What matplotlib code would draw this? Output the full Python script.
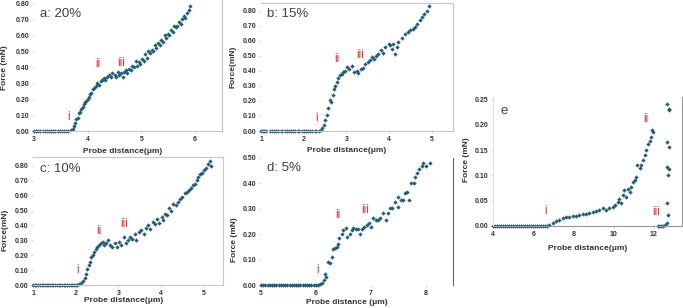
import matplotlib.pyplot as plt

# --- data (x: probe distance in um, y: force in mN) ---

# a: 20%
a_x = [3.00, 3.04, 3.08, 3.12, 3.16, 3.20, 3.24, 3.28, 3.32, 3.36, 3.40, 3.44, 3.48, 3.52,
       3.56, 3.60, 3.64, 3.68, 3.72, 3.74, 3.77, 3.79, 3.81, 3.84, 3.86, 3.88, 3.91, 3.93,
       3.95, 3.97, 4.00, 4.02, 4.05, 4.07, 4.10, 4.12, 4.15, 4.18, 4.21, 4.24, 4.27, 4.30,
       4.33, 4.36, 4.40, 4.43, 4.46, 4.50, 4.53, 4.56, 4.59, 4.62, 4.65, 4.68, 4.71, 4.74,
       4.77, 4.80, 4.83, 4.86, 4.89, 4.92, 4.95, 4.98, 5.01, 5.04, 5.07, 5.10, 5.13, 5.16,
       5.19, 5.22, 5.25, 5.28, 5.31, 5.34, 5.37, 5.40, 5.43, 5.46, 5.49, 5.52, 5.55, 5.58,
       5.61, 5.64, 5.67, 5.70, 5.73, 5.76, 5.79, 5.82, 5.85, 5.88, 5.90]
a_y = [0.00, 0.00, 0.00, 0.00, 0.00, 0.00, 0.00, 0.00, 0.00, 0.00, 0.00, 0.00, 0.00, 0.00,
       0.00, 0.00, 0.00, 0.005, 0.015, 0.03, 0.05, 0.075, 0.08, 0.11, 0.12, 0.14, 0.15, 0.17,
       0.18, 0.19, 0.20, 0.21, 0.23, 0.24, 0.26, 0.27, 0.28, 0.30, 0.29, 0.31, 0.32, 0.33,
       0.32, 0.34, 0.35, 0.34, 0.36, 0.35, 0.34, 0.37, 0.35, 0.36, 0.34, 0.37, 0.38, 0.36,
       0.39, 0.38, 0.41, 0.40, 0.44, 0.41, 0.43, 0.42, 0.45, 0.44, 0.48, 0.46, 0.50, 0.49,
       0.51, 0.50, 0.54, 0.52, 0.55, 0.54, 0.57, 0.56, 0.60, 0.58, 0.61, 0.60, 0.63, 0.62,
       0.66, 0.65, 0.66, 0.68, 0.67, 0.70, 0.72, 0.71, 0.74, 0.76, 0.78]

# b: 15%
b_x = [1.00, 1.04, 1.08, 1.12, 1.20, 1.26, 1.30, 1.36, 1.40, 1.46, 1.50, 1.56, 1.60, 1.66,
       1.70, 1.76, 1.80, 1.86, 1.90, 1.96, 2.00, 2.06, 2.10, 2.16, 2.20, 2.26, 2.30, 2.36,
       2.40, 2.43, 2.47, 2.50, 2.54, 2.58, 2.62, 2.65, 2.68, 2.70, 2.74, 2.78, 2.80, 2.86,
       2.90, 2.93, 2.97, 3.01, 3.07, 3.13, 3.19, 3.24, 3.28, 3.35, 3.40, 3.44, 3.50, 3.56,
       3.60, 3.64, 3.70, 3.75, 3.81, 3.86, 3.91, 3.99, 4.03, 4.06, 4.10, 4.14, 4.18, 4.22,
       4.30, 4.38, 4.44, 4.49, 4.56, 4.61, 4.65, 4.73, 4.78, 4.83, 4.89, 4.94]
b_y = [0.00, 0.00, 0.00, 0.00, 0.00, 0.00, 0.00, 0.00, 0.00, 0.00, 0.00, 0.00, 0.00, 0.00,
       0.00, 0.00, 0.00, 0.00, 0.00, 0.00, 0.00, 0.00, 0.00, 0.00, 0.00, 0.00, 0.00, 0.00,
       0.005, 0.018, 0.04, 0.07, 0.105, 0.15, 0.205, 0.19, 0.24, 0.28, 0.30, 0.325, 0.35, 0.37,
       0.38, 0.39, 0.40, 0.425, 0.41, 0.43, 0.39, 0.40, 0.385, 0.41, 0.42, 0.445, 0.455, 0.47,
       0.49, 0.48, 0.50, 0.51, 0.535, 0.52, 0.555, 0.58, 0.57, 0.545, 0.58, 0.51, 0.56, 0.59,
       0.62, 0.645, 0.655, 0.67, 0.68, 0.69, 0.71, 0.735, 0.755, 0.78, 0.80, 0.83]

# c: 10%
c_x = [1.00, 1.04, 1.08, 1.12, 1.16, 1.20, 1.24, 1.28, 1.32, 1.36, 1.40, 1.44, 1.48, 1.52,
       1.56, 1.60, 1.64, 1.68, 1.72, 1.76, 1.80, 1.84, 1.88, 1.92, 1.96, 2.00, 2.04, 2.08,
       2.13, 2.17, 2.21, 2.25, 2.27, 2.31, 2.34, 2.37, 2.41, 2.44, 2.48, 2.51, 2.55, 2.59,
       2.63, 2.66, 2.70, 2.76, 2.80, 2.86, 2.91, 2.97, 3.02, 3.07, 3.12, 3.17, 3.23, 3.28,
       3.33, 3.38, 3.42, 3.48, 3.54, 3.59, 3.64, 3.70, 3.75, 3.80, 3.85, 3.91, 3.95, 4.01,
       4.05, 4.09, 4.14, 4.19, 4.24, 4.28, 4.34, 4.40, 4.44, 4.50, 4.55, 4.61, 4.66, 4.71,
       4.75, 4.79, 4.83, 4.87, 4.91, 4.95, 5.00, 5.05, 5.10, 5.14, 5.18]
c_y = [0.00, 0.00, 0.00, 0.00, 0.00, 0.00, 0.00, 0.00, 0.00, 0.00, 0.00, 0.00, 0.00, 0.00,
       0.00, 0.00, 0.00, 0.00, 0.00, 0.00, 0.00, 0.00, 0.00, 0.00, 0.00, 0.00, 0.00, 0.005,
       0.015, 0.03, 0.045, 0.075, 0.11, 0.135, 0.155, 0.185, 0.20, 0.225, 0.24, 0.255, 0.27, 0.28,
       0.29, 0.27, 0.285, 0.30, 0.27, 0.255, 0.285, 0.255, 0.29, 0.27, 0.32, 0.285, 0.305, 0.32,
       0.31, 0.345, 0.30, 0.355, 0.37, 0.345, 0.38, 0.40, 0.375, 0.425, 0.41, 0.445, 0.415, 0.455,
       0.435, 0.48, 0.47, 0.52, 0.50, 0.545, 0.535, 0.56, 0.575, 0.59, 0.615, 0.625, 0.64, 0.65,
       0.67, 0.68, 0.705, 0.725, 0.745, 0.75, 0.77, 0.785, 0.815, 0.835, 0.80]

# d: 5%
d_x = [5.00, 5.04, 5.08, 5.12, 5.16, 5.20, 5.24, 5.28, 5.32, 5.36, 5.40, 5.44, 5.48, 5.52,
       5.56, 5.60, 5.64, 5.68, 5.72, 5.76, 5.80, 5.84, 5.88, 5.92, 5.96, 6.00, 6.04, 6.08,
       6.11, 6.14, 6.16, 6.19, 6.22, 6.26, 6.29, 6.32, 6.35, 6.38, 6.41, 6.42, 6.47, 6.50,
       6.55, 6.56, 6.62, 6.65, 6.68, 6.73, 6.76, 6.81, 6.84, 6.88, 6.93, 6.97, 7.00, 7.05,
       7.09, 7.13, 7.17, 7.23, 7.27, 7.31, 7.35, 7.39, 7.44, 7.49, 7.50, 7.55, 7.59, 7.62,
       7.67, 7.70, 7.73, 7.78, 7.81, 7.84, 7.88, 7.93, 7.96, 8.00, 8.08]
d_y = [0.00, 0.00, 0.00, 0.00, 0.00, 0.00, 0.00, 0.00, 0.00, 0.00, 0.00, 0.00, 0.00, 0.00,
       0.00, 0.00, 0.00, 0.00, 0.00, 0.00, 0.00, 0.00, 0.00, 0.00, 0.00, 0.00, 0.00, 0.003,
       0.007, 0.02, 0.043, 0.033, 0.09, 0.085, 0.11, 0.14, 0.145, 0.15, 0.16, 0.185, 0.20, 0.215,
       0.225, 0.19, 0.20, 0.215, 0.225, 0.22, 0.22, 0.20, 0.22, 0.227, 0.235, 0.243, 0.227, 0.262,
       0.256, 0.256, 0.262, 0.285, 0.256, 0.282, 0.302, 0.302, 0.328, 0.348, 0.309, 0.335, 0.335, 0.361,
       0.367, 0.335, 0.40, 0.40, 0.427, 0.44, 0.455, 0.468, 0.479, 0.468, 0.479]

# e
e_x = [4.0, 4.1, 4.2, 4.3, 4.4, 4.5, 4.6, 4.7, 4.8, 4.9, 5.0, 5.1, 5.2, 5.3, 5.4, 5.5,
       5.6, 5.7, 5.8, 5.9, 6.0, 6.1, 6.2, 6.3, 6.4, 6.5, 6.6, 6.7, 6.80, 6.96, 7.13, 7.29,
       7.46, 7.63, 7.79, 7.96, 8.13, 8.29, 8.46, 8.63, 8.79, 8.96, 9.12, 9.29, 9.46, 9.62,
       9.79, 9.96, 10.09, 10.20, 10.29, 10.37, 10.46, 10.54, 10.62, 10.71, 10.79, 10.87,
       10.96, 11.04, 11.12, 11.17, 11.29, 11.37, 11.45, 11.54, 11.62, 11.70, 11.79, 11.87,
       11.90, 11.95, 12.20, 12.28, 12.37, 12.45, 12.54, 12.67, 12.70, 12.67, 12.70, 12.73,
       12.67, 12.73, 12.67, 12.73, 12.67, 12.73]
e_y = [0.0, 0.0, 0.0, 0.0, 0.0, 0.0, 0.0, 0.0, 0.0, 0.0, 0.0, 0.0, 0.0, 0.0, 0.0, 0.0,
       0.0, 0.0, 0.0, 0.0, 0.0, 0.0, 0.0, 0.0, 0.0, 0.0, 0.0, 0.0, 0.002, 0.005, 0.009, 0.012,
       0.015, 0.017, 0.018, 0.020, 0.020, 0.022, 0.023, 0.024, 0.025, 0.027, 0.030, 0.031, 0.035, 0.031,
       0.035, 0.038, 0.041, 0.048, 0.054, 0.045, 0.061, 0.071, 0.058, 0.074, 0.068, 0.077,
       0.087, 0.091, 0.097, 0.120, 0.114, 0.120, 0.130, 0.140, 0.150, 0.163, 0.169, 0.176,
       0.190, 0.186, 0.0, 0.0, 0.0, 0.0, 0.002, 0.005, 0.022, 0.046, 0.100, 0.113,
       0.117, 0.157, 0.166, 0.230, 0.241, 0.232]

# roman numeral annotations (x, y) per panel
a_marks = [("i", 3.64, 0.05), ("ii", 4.19, 0.38), ("iii", 4.63, 0.39)]
b_marks = [("i", 2.31, 0.046), ("ii", 2.79, 0.436), ("iii", 3.32, 0.465)]
c_marks = [("i", 2.05, 0.06), ("ii", 2.54, 0.32), ("iii", 3.13, 0.37)]
d_marks = [("i", 6.03, 0.035), ("ii", 6.41, 0.25), ("iii", 6.90, 0.27)]
e_marks = [("i", 6.63, 0.017), ("ii", 11.62, 0.199), ("iii", 12.12, 0.015)]

W, H = 683, 308
PT = '#1f5c7e'
GRID = '#c8c8c8'

fig = plt.figure(figsize=(W / 100, H / 100), dpi=100)
plt.rcParams['font.family'] = ['Liberation Sans', 'DejaVu Sans']


def make_ax(x0, y0, x1, y1):
    # pixel box -> figure fraction
    return fig.add_axes([x0 / W, 1 - y1 / H, (x1 - x0) / W, (y1 - y0) / H])


def pix_text(x, y, s, **kw):
    fig.text(x / W, 1 - y / H, s, ha='center', va='center', **kw)


def panel(ax, xs, ys, marks, title, tx, ty, xlim, ylim, xticks, yticks, spines):
    ax.plot(xs, ys, linestyle='none', marker='D', ms=2.2, mew=0, color=PT, clip_on=False)
    ax.set_xlim(*xlim)
    ax.set_ylim(*ylim)
    ax.set_xticks(xticks)
    ax.set_xticklabels([str(t) for t in xticks])
    ax.set_yticks(yticks)
    ax.set_yticklabels(['%.2f' % t for t in yticks])
    ax.tick_params(labelsize=5, length=1.5, width=0.5, color=GRID, pad=2)
    for lab in ax.get_xticklabels() + ax.get_yticklabels():
        lab.set_fontweight('bold')
        lab.set_color('#333333')
    for side in ['top', 'bottom', 'left', 'right']:
        if side in spines:
            ax.spines[side].set_color(spines[side])
            ax.spines[side].set_linewidth(0.8)
        else:
            ax.spines[side].set_visible(False)
    for s, x, y in marks:
        ax.text(x, y, s, color='#e8312f', fontsize=8.5, ha='center', va='bottom')
    ax.text(tx, ty, title, fontsize=9.5, color='#404040', ha='left', va='center')


ax_a = make_ax(34, 0, 222, 131)
panel(ax_a, a_x, a_y, a_marks, 'a: 20%', 3.11, 0.73, (3, 6.5), (0, 0.82),
      [3, 4, 5, 6], [0, 0.1, 0.2, 0.3, 0.4, 0.5, 0.6, 0.7, 0.8],
      {'bottom': GRID, 'right': GRID})

ax_b = make_ax(261, 3, 453, 131)
panel(ax_b, b_x, b_y, b_marks, 'b: 15%', 1.14, 0.78, (1, 5.5), (0, 0.85),
      [1, 2, 3, 4, 5], [0, 0.1, 0.2, 0.3, 0.4, 0.5, 0.6, 0.7, 0.8],
      {'bottom': GRID, 'right': GRID, 'top': GRID})

ax_c = make_ax(33, 157, 223, 285)
panel(ax_c, c_x, c_y, c_marks, 'c: 10%', 1.16, 0.78, (1, 5.45), (0, 0.86),
      [1, 2, 3, 4, 5], [0, 0.1, 0.2, 0.3, 0.4, 0.5, 0.6, 0.7, 0.8],
      {'bottom': GRID, 'right': GRID, 'top': GRID})

ax_d = make_ax(261, 158, 453, 285)
panel(ax_d, d_x, d_y, d_marks, 'd: 5%', 5.11, 0.46, (5, 8.5), (0, 0.5),
      [5, 6, 7, 8], [0, 0.1, 0.2, 0.3, 0.4, 0.5],
      {'right': '#666666'})

ax_e = make_ax(493, 97, 682, 226)
panel(ax_e, e_x, e_y, e_marks, 'e', 4.35, 0.227, (4, 13.4), (0, 0.255),
      [4, 6, 8, 10, 12], [0, 0.05, 0.1, 0.15, 0.2, 0.25],
      {'bottom': '#999999', 'right': '#999999', 'left': '#dddddd'})

lab = dict(fontsize=6, fontweight='bold', color='#333333')
pix_text(123, 152, 'Probe distance(μm)', **lab)
pix_text(347, 150, 'Probe distance(μm)', **lab)
pix_text(124, 301, 'Probe distance(μm)', **lab)
pix_text(347, 302, 'Probe distance (μm)', **lab)
pix_text(588, 248, 'Probe distance(μm)', **lab)
pix_text(5, 68, 'Force (mN)', rotation=90, **lab)
pix_text(233, 67, 'Force(mN)', rotation=90, **lab)
pix_text(5, 230, 'Force(mN)', rotation=90, **lab)
pix_text(234, 240, 'Force (mN)', rotation=90, **lab)
pix_text(466, 160, 'Force (mN)', rotation=90, **lab)

fig.savefig('out.png', dpi=100)
